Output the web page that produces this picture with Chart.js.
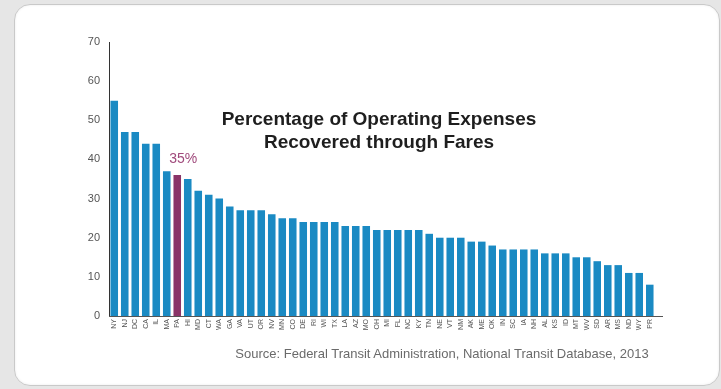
<!DOCTYPE html>
<html>
<head>
<meta charset="utf-8">
<script src="https://cdn.jsdelivr.net/npm/chart.js@4.4.1/dist/chart.umd.min.js"></script>
<style>
  html, body { margin: 0; padding: 0; }
  body { width: 721px; height: 389px; background: #e6e6e6; position: relative; overflow: hidden; font-family: "Liberation Sans", Arial, sans-serif; }
  #card { position: absolute; left: 14px; top: 4px; width: 704px; height: 380px; background: #ffffff; border: 1px solid #c9c9c9; border-radius: 16px; box-shadow: inset 0 0 3px rgba(0,0,0,0.08); }
  #wrap { position: absolute; left: 0; top: 0; width: 721px; height: 389px; }
  #title { position: absolute; left: 179px; width: 400px; top: 107px; text-align: center; font-weight: bold; font-size: 19px; line-height: 23px; color: #1e1e1e; }
  #source { position: absolute; left: 180px; width: 524px; top: 346px; text-align: center; font-size: 13px; color: #6a6a6a; }
</style>
</head>
<body>
<div id="card"></div>
<div id="wrap"><canvas id="c" width="721" height="389"></canvas></div>
<div id="title">Percentage of Operating Expenses<br>Recovered through Fares</div>
<div id="source">Source: Federal Transit Administration, National Transit Database, 2013</div>
<script>
const states = ["NY","NJ","DC","CA","IL","MA","PA","HI","MD","CT","WA","GA","VA","UT","OR","NV","MN","CO","DE","RI","WI","TX","LA","AZ","MO","OH","MI","FL","NC","KY","TN","NE","VT","NM","AK","ME","OK","IN","SC","IA","NH","AL","KS","ID","MT","WV","SD","AR","MS","ND","WY","PR"];
const farePct = [55,47,47,44,44,37,36,35,32,31,30,28,27,27,27,26,25,25,24,24,24,24,23,23,23,22,22,22,22,22,21,20,20,20,19,19,18,17,17,17,17,16,16,16,15,15,14,13,13,11,11,8];
const highlightIndex = 6;
const highlightLabel = "35%";
const yTicks = [0,10,20,30,40,50,60,70];

const blue = "#1a8ac3";
const purple = "#8a3468";
const barColors = farePct.map((v, i) => i === highlightIndex ? purple : blue);

const extras = {
  id: "extras",
  afterDatasetsDraw(chart) {
    const ctx = chart.ctx;
    const area = chart.chartArea;
    ctx.save();
    ctx.strokeStyle = "#555";
    ctx.lineWidth = 1;
    ctx.beginPath();
    ctx.moveTo(area.left, Math.round(area.bottom) + 0.5);
    ctx.lineTo(area.right + 8, Math.round(area.bottom) + 0.5);
    ctx.stroke();
    const bar = chart.getDatasetMeta(0).data[highlightIndex];
    ctx.fillStyle = "#a04a7c";
    ctx.font = "14px 'Liberation Sans', Arial, sans-serif";
    ctx.textAlign = "center";
    ctx.textBaseline = "middle";
    ctx.fillText(highlightLabel, bar.x + 6, chart.scales.y.getPixelForValue(40.2));
    ctx.restore();
  }
};

new Chart(document.getElementById("c"), {
  type: "bar",
  data: {
    labels: states,
    datasets: [{
      data: farePct,
      backgroundColor: barColors,
      borderWidth: 0,
      barPercentage: 0.72,
      categoryPercentage: 1.0
    }]
  },
  options: {
    responsive: false,
    animation: false,
    devicePixelRatio: 1,
    layout: { padding: { left: 0, right: 66, top: 42, bottom: 53 } },
    plugins: { legend: { display: false }, tooltip: { enabled: false }, title: { display: false } },
    scales: {
      x: {
        grid: { display: false, drawTicks: false },
        border: { display: false },
        ticks: {
          autoSkip: false,
          minRotation: 90,
          maxRotation: 90,
          padding: 3,
          color: "#555",
          font: { size: 7, family: "'Liberation Sans', Arial, sans-serif" }
        },
        afterFit(scale) { scale.height = 20; }
      },
      y: {
        min: 0,
        max: 70,
        afterBuildTicks(scale) { scale.ticks = yTicks.map(v => ({ value: v })); },
        grid: { display: false, drawTicks: false },
        border: { display: true, color: "#333", width: 1 },
        ticks: {
          padding: 9,
          color: "#555",
          font: { size: 11, family: "'Liberation Sans', Arial, sans-serif" }
        },
        afterFit(scale) { scale.width = 109; }
      }
    }
  },
  plugins: [extras]
});
</script>
</body>
</html>
